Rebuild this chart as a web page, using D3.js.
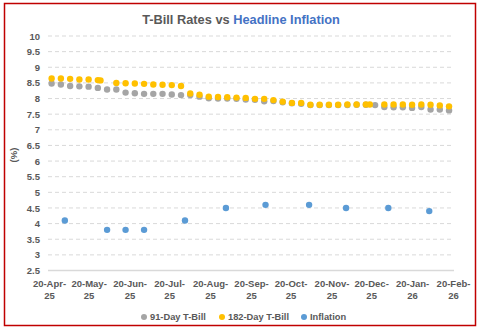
<!DOCTYPE html>
<html>
<head>
<meta charset="utf-8">
<script src="https://cdn.jsdelivr.net/npm/d3@7"></script>
<style>
  body { margin: 0; background: white; }
  text { font-family: "Liberation Sans", Arial, sans-serif; }
</style>
</head>
<body>
<svg width="482" height="332" id="MainSVG"></svg>
<script>
// 91-day T-bill auctions
var tb91Dates = ["2025-04-22","2025-04-29","2025-05-06","2025-05-13","2025-05-20","2025-05-27","2025-06-03","2025-06-10",
  "2025-06-17","2025-06-24","2025-07-01","2025-07-08","2025-07-15","2025-07-22","2025-07-29","2025-08-05","2025-08-12",
  "2025-08-19","2025-08-26","2025-09-02","2025-09-09","2025-09-16","2025-09-23","2025-09-30","2025-10-07","2025-10-14",
  "2025-10-21","2025-10-28","2025-11-04","2025-11-11","2025-11-18","2025-11-25","2025-12-02","2025-12-09","2025-12-16",
  "2025-12-23","2025-12-30","2026-01-06","2026-01-13","2026-01-20","2026-01-27","2026-02-03","2026-02-10","2026-02-17"];
var tb91Values = [8.48,8.45,8.40,8.39,8.38,8.34,8.29,8.29,8.19,8.17,8.15,8.15,8.15,8.13,8.11,8.11,8.06,
  8.01,8.00,8.00,7.99,7.97,7.96,7.91,7.92,7.88,7.85,7.83,7.79,7.79,7.79,7.79,7.79,7.80,7.80,
  7.79,7.73,7.72,7.72,7.70,7.73,7.65,7.65,7.62];

// 182-day T-bill auctions
var tb182Dates = ["2025-04-22","2025-04-29","2025-05-06","2025-05-13","2025-05-20","2025-05-27","2025-05-29","2025-06-10",
  "2025-06-17","2025-06-24","2025-07-01","2025-07-08","2025-07-15","2025-07-22","2025-07-29","2025-08-05","2025-08-12",
  "2025-08-19","2025-08-26","2025-09-02","2025-09-09","2025-09-16","2025-09-23","2025-09-30","2025-10-07","2025-10-14",
  "2025-10-21","2025-10-28","2025-11-04","2025-11-11","2025-11-18","2025-11-25","2025-12-02","2025-12-09","2025-12-16",
  "2025-12-19","2025-12-30","2026-01-06","2026-01-13","2026-01-20","2026-01-27","2026-02-03","2026-02-10","2026-02-17"];
var tb182Values = [8.64,8.64,8.63,8.61,8.61,8.59,8.58,8.50,8.49,8.48,8.47,8.45,8.44,8.43,8.40,8.16,8.12,
  8.06,8.05,8.04,8.03,8.02,7.99,7.99,7.95,7.90,7.86,7.86,7.80,7.80,7.80,7.80,7.81,7.81,7.81,
  7.81,7.81,7.81,7.81,7.80,7.81,7.80,7.78,7.75];

// headline inflation releases
var inflDates = ["2025-05-02","2025-06-03","2025-06-17","2025-07-01","2025-08-01","2025-09-01","2025-10-01",
  "2025-11-03","2025-12-01","2026-01-02","2026-02-02"];
var inflValues = [4.1,3.8,3.8,3.8,4.1,4.5,4.6,4.6,4.5,4.5,4.4];

var xTickDates = ["2025-04-20","2025-05-20","2025-06-20","2025-07-20","2025-08-20","2025-09-20",
  "2025-10-20","2025-11-20","2025-12-20","2026-01-20","2026-02-20"];
var yTicks = [2.5,3,3.5,4,4.5,5,5.5,6,6.5,7,7.5,8,8.5,9,9.5,10];

var seriesNames = ["91-Day T-Bill","182-Day T-Bill","Inflation"];
var seriesColors = ["#A5A5A5","#FFC000","#5B9BD5"];

var parse = d3.utcParse("%Y-%m-%d");
function pairs(ds, vs) { return ds.map(function(d,i){ return {date: parse(d), value: vs[i]}; }); }
var tb91 = pairs(tb91Dates, tb91Values);
var tb182 = pairs(tb182Dates, tb182Values);
var infl = pairs(inflDates, inflValues);

var svg = d3.select("#MainSVG");
var grey = "#595959";

// chart border
svg.append("rect")
  .attr("x", 4.5).attr("y", 3.5)
  .attr("width", 471).attr("height", 322)
  .attr("fill", "white")
  .attr("stroke", "#C00000")
  .attr("stroke-width", 1.5);

var xs = d3.scaleUtc()
  .domain([parse(xTickDates[0]), parse(xTickDates[xTickDates.length-1])])
  .range([49, 453]);
var ys = d3.scaleLinear()
  .domain([2.5, 10])
  .range([270.5, 36]);

// title
var title = svg.append("text")
  .attr("x", 241).attr("y", 23.5)
  .attr("text-anchor", "middle")
  .attr("font-size", "12.8px")
  .attr("font-weight", "bold");
title.append("tspan").attr("fill", grey).text("T-Bill Rates vs ");
title.append("tspan").attr("fill", "#4472C4").text("Headline Inflation");

// gridlines
svg.append("g")
  .selectAll("line")
  .data(yTicks.filter(function(d){ return d > 2.5; }))
  .enter().append("line")
  .attr("x1", 48).attr("x2", 454)
  .attr("y1", function(d){ return ys(d); })
  .attr("y2", function(d){ return ys(d); })
  .attr("stroke", "#D9D9D9")
  .attr("stroke-width", 1)
  .attr("stroke-dasharray", "4,3");

// y axis labels
var yAxis = svg.append("g")
  .attr("transform", "translate(40,0)")
  .call(d3.axisLeft(ys).tickValues(yTicks).tickSize(0).tickPadding(0).tickFormat(d3.format("~g")));
yAxis.select(".domain").remove();
yAxis.selectAll("text")
  .attr("fill", grey)
  .attr("font-size", "9.5px")
  .attr("font-weight", "bold")
  .attr("font-family", "Liberation Sans, Arial, sans-serif");

// x axis baseline + labels
var xAxis = svg.append("g")
  .attr("transform", "translate(0," + ys(2.5) + ")")
  .call(d3.axisBottom(xs).tickValues(xTickDates.map(parse)).tickSize(0).tickFormat(""));
xAxis.select(".domain")
  .attr("stroke", "#D9D9D9")
  .attr("stroke-width", 1.5)
  .attr("d", "M48,0H454");
xAxis.selectAll(".tick text").remove();
xAxis.selectAll(".tick").each(function(d){
  var t = d3.select(this).append("text")
    .attr("text-anchor", "middle")
    .attr("fill", grey)
    .attr("font-size", "9.5px")
    .attr("font-weight", "bold")
    .attr("font-family", "Liberation Sans, Arial, sans-serif");
  t.append("tspan").attr("x", 0).attr("y", 16).text(d3.utcFormat("%d-%b-")(d));
  t.append("tspan").attr("x", 0).attr("y", 28).text(d3.utcFormat("%y")(d));
});

// y axis title
svg.append("text")
  .attr("transform", "translate(17,155) rotate(-90)")
  .attr("text-anchor", "middle")
  .attr("fill", grey)
  .attr("font-size", "9.5px")
  .attr("font-weight", "bold")
  .text("(%)");

// dots
function dots(data, color, cls) {
  svg.append("g").selectAll("." + cls)
    .data(data)
    .enter().append("circle")
    .attr("class", cls)
    .attr("cx", function(d){ return xs(d.date); })
    .attr("cy", function(d){ return ys(d.value); })
    .attr("r", 3.2)
    .attr("fill", color);
}
dots(tb91, seriesColors[0], "t91");
dots(tb182, seriesColors[1], "t182");
dots(infl, seriesColors[2], "infl");

// legend
var legX = [144, 222, 304];
var leg = svg.append("g").selectAll(".leg")
  .data(seriesNames)
  .enter().append("g")
  .attr("class", "leg")
  .attr("transform", function(d,i){ return "translate(" + legX[i] + ",317)"; });
leg.append("circle")
  .attr("r", 3)
  .attr("fill", function(d,i){ return seriesColors[i]; });
leg.append("text")
  .attr("x", 6).attr("y", 3.3)
  .attr("fill", grey)
  .attr("font-size", "9.3px")
  .attr("font-weight", "bold")
  .text(function(d){ return d; });
</script>
</body>
</html>
